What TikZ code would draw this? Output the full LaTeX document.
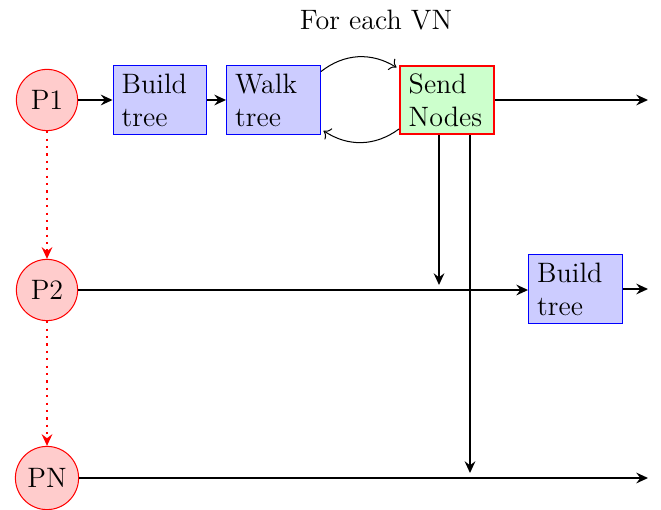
\documentclass[tikz,border=0pt]{standalone}
\usetikzlibrary{arrows.meta}
\begin{document}
\begin{tikzpicture}[x=0.392pt,y=-0.392pt,
  every node/.style={font=\fontsize{11}{13}\selectfont},
  proc/.style={circle,draw=red,fill=red!20,minimum size=24pt,inner sep=2.8pt},
  taskbox/.style={rectangle,draw=blue,fill=blue!20,text width=30pt,align=left,inner xsep=3.4pt,inner ysep=2pt,minimum height=26.7pt},
  sendbox/.style={rectangle,draw=red,line width=0.8pt,fill=green!20,text width=30pt,align=left,inner xsep=3.4pt,inner ysep=2pt,minimum height=26.7pt},
  flow/.style={-{Stealth[length=4.6pt,width=4.2pt,inset=1.6pt]},line width=0.9pt},
  thinflow/.style={->},
  order/.style={-{Stealth[length=4.6pt,width=4.2pt,inset=1.6pt]},red,line width=0.9pt,dotted}]
\useasboundingbox (0,0) rectangle (661,510);
\node (title) at (376,20) {For each VN};
\node[proc] (p1) at (47,100) {P1};
\node[proc] (p2) at (47,290) {P2};
\node[proc] (pn) at (47,478) {PN};
\node[taskbox] (b1) at (160,100) {Build tree};
\node[taskbox] (w1) at (273.5,100) {Walk tree};
\node[sendbox] (s1) at (447,100) {Send Nodes};
\node[taskbox] (b2) at (575.5,289) {Build tree};
\coordinate (e1) at (648,100);
\coordinate (e2) at (648,289);
\coordinate (e3) at (648,478);
\coordinate (d1) at (439,285);
\coordinate (d2) at (470,473);
\coordinate (s1a) at (439,100);
\coordinate (s1b) at (470,100);
\draw[flow] (p1) -- (b1);
\draw[flow] (b1) -- (w1);
\draw[flow] (s1) -- (e1);
\draw[thinflow] ([yshift=-2.4pt]w1.north east) to[bend left=35] ([xshift=-1pt,yshift=-1pt]s1.north west);
\draw[thinflow] ([yshift=2.4pt]s1.south west) to[bend left=35] ([xshift=1pt,yshift=1.5pt]w1.south east);
\draw[flow] (s1a |- s1.south) -- (d1);
\draw[flow] (s1b |- s1.south) -- (d2);
\draw[flow] (p2) -- (p2 -| b2.west);
\draw[flow] (b2) -- (e2);
\draw[flow] (pn) -- (e3);
\draw[order] (p1) -- (p2);
\draw[order] (p2) -- (pn);
\end{tikzpicture}
\end{document}
